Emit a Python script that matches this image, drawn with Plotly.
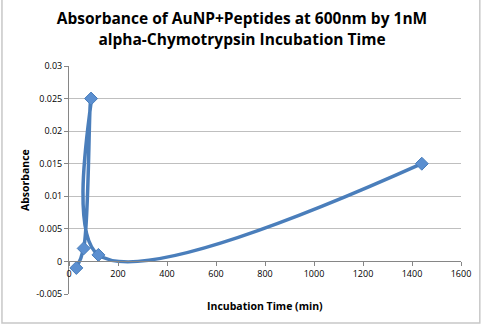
import plotly.graph_objects as go

time_min = [30, 60, 90, 120, 1440]
absorbance = [-0.001, 0.002, 0.025, 0.001, 0.015]

x_ticks = [0, 200, 400, 600, 800, 1000, 1200, 1400, 1600]
y_ticks = [-0.005, 0, 0.005, 0.01, 0.015, 0.02, 0.025, 0.03]
y_tick_text = ["-0.005", "0", "0.005", "0.01", "0.015", "0.02", "0.025", "0.03"]

blue = "#4A7EBB"
font = "Open Sans, Liberation Sans, sans-serif"

fig = go.Figure()
fig.add_trace(go.Scatter(
    x=time_min, y=absorbance, mode="lines+markers",
    line=dict(color=blue, width=3.5, shape="spline", smoothing=1),
    marker=dict(symbol="diamond", size=10, color="#5B8FD0", line=dict(color="#4A7EBB", width=1)),
    showlegend=False,
))

y0 = -0.005
y1 = 0.03
xpos = (0 - y0) / (y1 - y0)

fig.update_layout(
    width=484, height=326,
    margin=dict(l=69, r=23, t=66, b=32),
    paper_bgcolor="white", plot_bgcolor="white",
    font=dict(family=font, size=10, color="#000000"),
    title=dict(
        text="<b>Absorbance of AuNP+Peptides at 600nm by 1nM<br>alpha-Chymotrypsin Incubation Time</b>",
        x=0.5, xanchor="center", y=0.925, yanchor="top",
        font=dict(family=font, size=15.5, color="#000000"),
    ),
    xaxis=dict(
        range=[0, 1600], tickvals=x_ticks, ticktext=[str(v) for v in x_ticks],
        anchor="free", position=xpos,
        showline=True, linecolor="#868686", linewidth=1,
        ticks="outside", ticklen=4, tickcolor="#868686",
        showgrid=False, zeroline=False,
        tickfont=dict(size=9),
    ),
    yaxis=dict(
        range=[y0, y1], tickvals=y_ticks, ticktext=y_tick_text,
        showline=True, linecolor="#868686", linewidth=1,
        ticks="outside", ticklen=4, tickcolor="#868686",
        showgrid=True, gridcolor="#BFBFBF", gridwidth=1, zeroline=False,
        tickfont=dict(size=9),
    ),
    annotations=[
        dict(text="<b>Absorbance</b>", xref="paper", yref="paper", x=-0.112, y=0.5,
             textangle=-90, showarrow=False, font=dict(size=10.5), xanchor="center", yanchor="middle"),
        dict(text="<b>Incubation Time (min)</b>", xref="paper", yref="paper", x=0.5, y=-0.015,
             showarrow=False, font=dict(size=10.5), xanchor="center", yanchor="top"),
    ],
    shapes=[
        dict(type="rect", xref="paper", yref="paper", x0=-0.171, x1=1.048, y0=-0.127, y1=1.3,
             line=dict(color="#C8C8C8", width=1.5), layer="below"),
    ],
)

fig.write_html("out.html")
